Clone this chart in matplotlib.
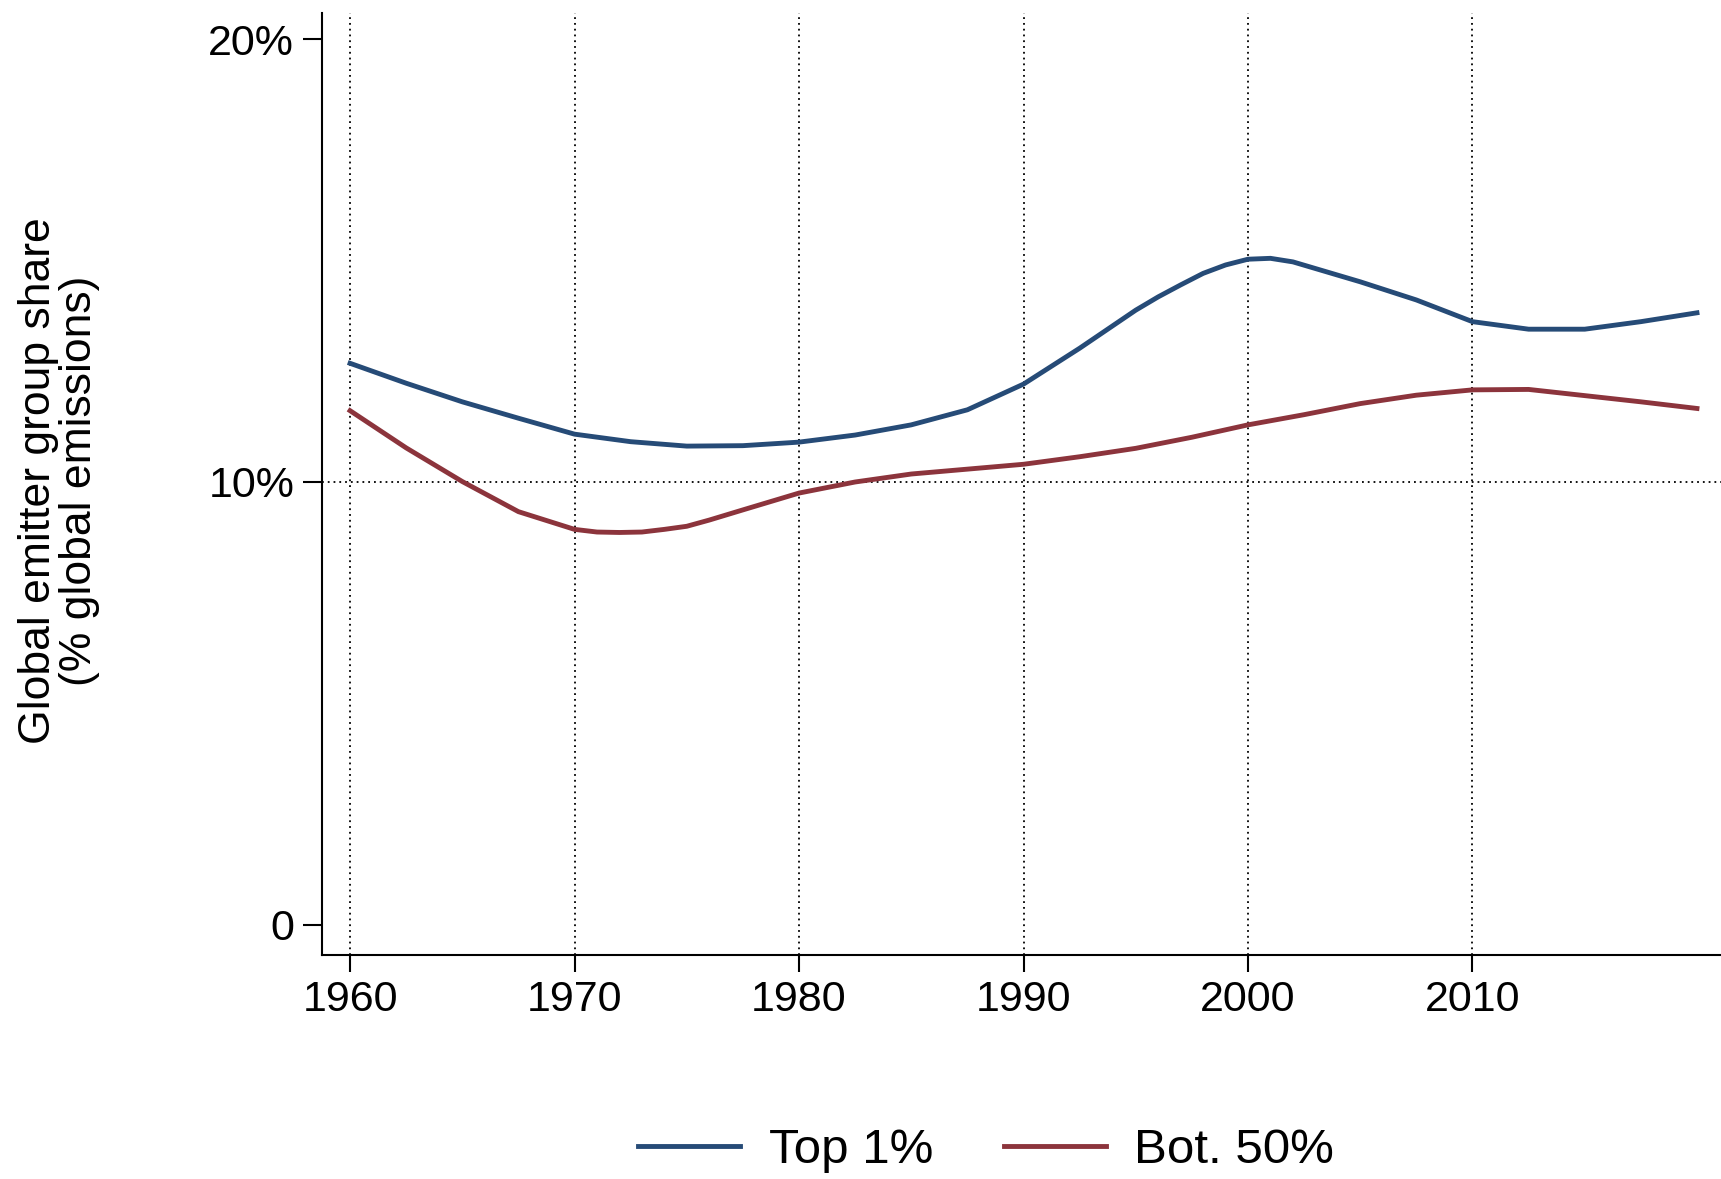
import matplotlib
matplotlib.use('Agg')
import matplotlib.pyplot as plt

# values (share of global emissions, %)
years_top1 = [1960, 1962.5, 1965, 1967.5, 1970, 1972.5, 1975, 1977.5, 1980, 1982.5,
              1985, 1987.5, 1990, 1992.5, 1995, 1996, 1997, 1998, 1999, 2000,
              2001, 2002, 2003, 2004, 2005, 2007.5, 2010, 2012.5, 2015, 2017.5, 2020]
top1 = [12.68, 12.23, 11.81, 11.44, 11.08, 10.91, 10.81, 10.82, 10.90, 11.06,
        11.29, 11.63, 12.21, 13.02, 13.88, 14.18, 14.45, 14.71, 14.90, 15.03,
        15.05, 14.97, 14.82, 14.67, 14.52, 14.11, 13.62, 13.45, 13.45, 13.62, 13.82]

years_bot50 = [1960, 1962.5, 1965, 1967.5, 1970, 1971, 1972, 1973, 1974, 1975,
               1976, 1977.5, 1980, 1982.5, 1985, 1987.5, 1990, 1992.5, 1995, 1997.5,
               2000, 2002.5, 2005, 2007.5, 2010, 2012.5, 2015, 2017.5, 2020]
bot50 = [11.61, 10.77, 10.01, 9.33, 8.93, 8.87, 8.86, 8.87, 8.93, 9.00,
         9.14, 9.37, 9.75, 10.00, 10.18, 10.29, 10.40, 10.57, 10.76, 11.01,
         11.29, 11.52, 11.77, 11.96, 12.08, 12.09, 11.95, 11.81, 11.66]

xticks = [1960, 1970, 1980, 1990, 2000, 2010]
yticks = [0, 10, 20]
ytick_labels = ['0', '10%', '20%']

plt.rcParams['font.family'] = ['Liberation Sans', 'DejaVu Sans']

fig = plt.figure(figsize=(17.21, 11.79), dpi=100)
ax = fig.add_axes([0.1871, 0.190, 0.8129, 0.799])

# dotted reference lines
for x in xticks:
    ax.axvline(x, color='black', lw=1.3, ls=(0, (1, 2.2)), zorder=1)
ax.axhline(10, color='black', lw=1.3, ls=(0, (1, 2.2)), zorder=1)

ax.plot(years_top1, top1, color='#264B77', lw=3.5, label='Top 1%', zorder=3,
        solid_joinstyle='round')
ax.plot(years_bot50, bot50, color='#8C343C', lw=3.5, label='Bot. 50%', zorder=3,
        solid_joinstyle='round')

ax.set_xlim(1958.75, 2021.07)
ax.set_ylim(-0.68, 20.59)
ax.set_xticks(xticks)
ax.set_xticklabels([str(x) for x in xticks])
ax.set_yticks(yticks)
ax.set_yticklabels(ytick_labels)

ax.spines['top'].set_visible(False)
ax.spines['right'].set_visible(False)
for s in ['left', 'bottom']:
    ax.spines[s].set_linewidth(1.5)
ax.tick_params(axis='y', length=14, width=1.5, pad=6, labelsize=31)
ax.tick_params(axis='x', length=12, width=1.5, pad=6, labelsize=31)

fig.text(0.0345, 0.592, 'Global emitter group share\n(% global emissions)',
         rotation=90, ha='center', va='center', fontsize=32, linespacing=1.0)

fig.legend(loc='center', bbox_to_anchor=(0.573, 0.024), ncol=2, frameon=False,
           fontsize=35.5, handlelength=2.07, handletextpad=0.57, columnspacing=1.44)

fig.savefig('out.png', dpi=100)
